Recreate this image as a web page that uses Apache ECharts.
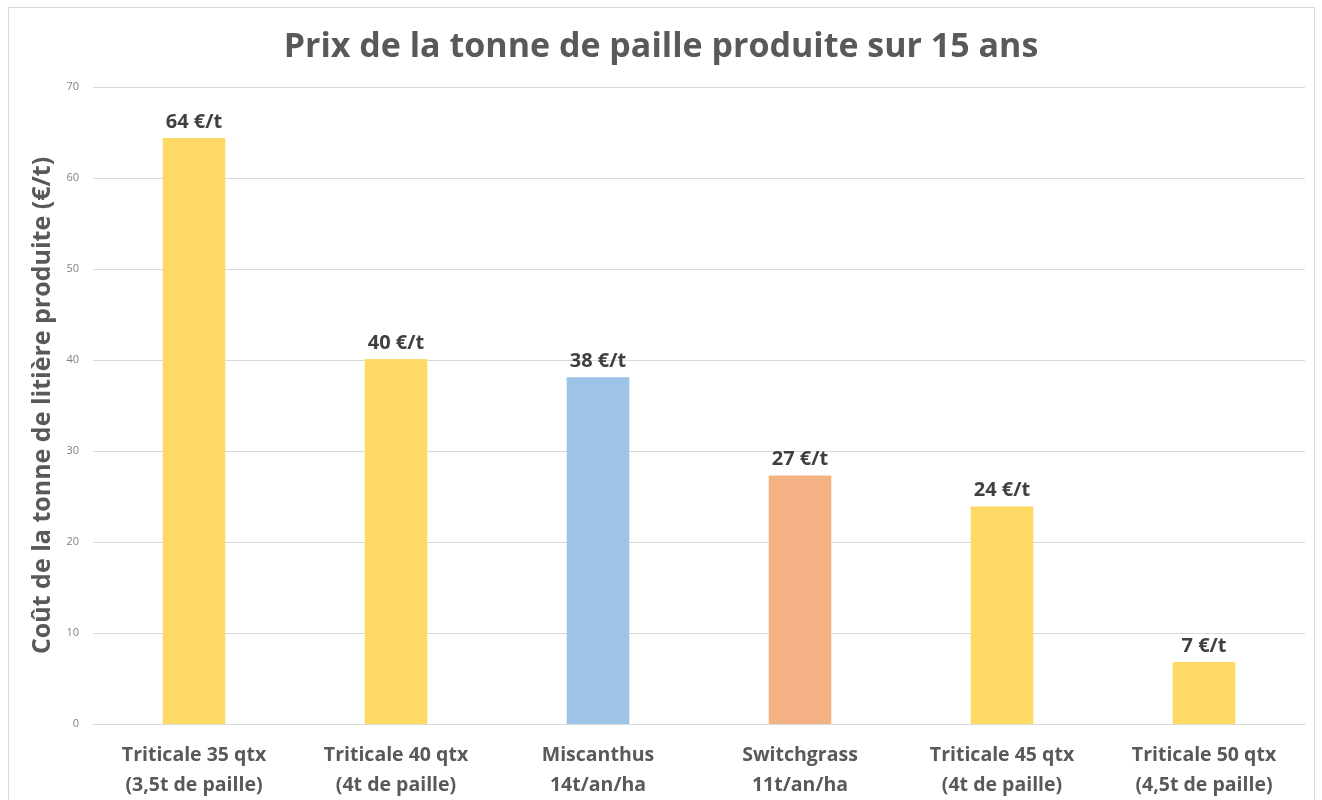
<!DOCTYPE html>
<html><head><meta charset="utf-8">
<script src="https://cdn.jsdelivr.net/npm/echarts@6/dist/echarts.min.js"></script>
<style>
html,body{margin:0;padding:0;background:#fff;}
#frame{position:absolute;left:8px;top:7px;width:1307px;height:800px;border:1px solid #d9d9d9;box-sizing:border-box;}
#chart{position:absolute;left:0;top:0;width:1322px;height:800px;}
</style></head>
<body>
<div id="frame"></div>
<div id="chart"></div>
<script>
const categories = ["Triticale 35 qtx\n(3,5t de paille)", "Triticale 40 qtx\n(4t de paille)", "Miscanthus\n14t/an/ha", "Switchgrass\n11t/an/ha", "Triticale 45 qtx\n(4t de paille)", "Triticale 50 qtx\n(4,5t de paille)"];
const values = [64.4, 40.1, 38.1, 27.3, 23.9, 6.8];
const labels = ["64 €/t", "40 €/t", "38 €/t", "27 €/t", "24 €/t", "7 €/t"];
const colors = ["#FFD966", "#FFD966", "#9DC3E6", "#F4B183", "#FFD966", "#FFD966"];
const font = "'Open Sans', 'Noto Sans', sans-serif";
const chart = echarts.init(document.getElementById('chart'), null, {renderer: 'canvas'});
chart.setOption({
  animation: false,
  backgroundColor: 'transparent',
  title: {
    text: 'Prix de la tonne de paille produite sur 15 ans',
    left: 'center', top: 25,
    textStyle: {fontFamily: font, fontSize: 34, fontWeight: 'bold', color: '#595959'}
  },
  grid: {left: 93, right: 17, top: 87, bottom: 76},
  xAxis: {
    type: 'category', data: categories,
    axisLine: {lineStyle: {color: '#d9d9d9'}},
    axisTick: {show: false},
    axisLabel: {fontFamily: font, fontSize: 19.5, fontWeight: 'bold', color: '#595959', lineHeight: 30, margin: 16, interval: 0}
  },
  yAxis: {
    type: 'value', min: 0, max: 70, interval: 10,
    name: 'Coût de la tonne de litière produite (€/t)',
    nameLocation: 'middle', nameGap: 38,
    nameTextStyle: {fontFamily: font, fontSize: 25, fontWeight: 'bold', color: '#595959'},
    axisLine: {show: false}, axisTick: {show: false},
    axisLabel: {fontFamily: font, fontSize: 11, color: '#7f7f7f', margin: 14},
    splitLine: {lineStyle: {color: '#d9d9d9', width: 1}}
  },
  series: [{
    type: 'bar', barWidth: '31%',
    data: values.map((v, i) => ({value: v, itemStyle: {color: colors[i]}})),
    label: {
      show: true, position: 'top', distance: 6,
      fontFamily: font, fontSize: 20, fontWeight: 'bold', color: '#404040',
      formatter: p => labels[p.dataIndex]
    }
  }]
});
</script>
</body></html>
